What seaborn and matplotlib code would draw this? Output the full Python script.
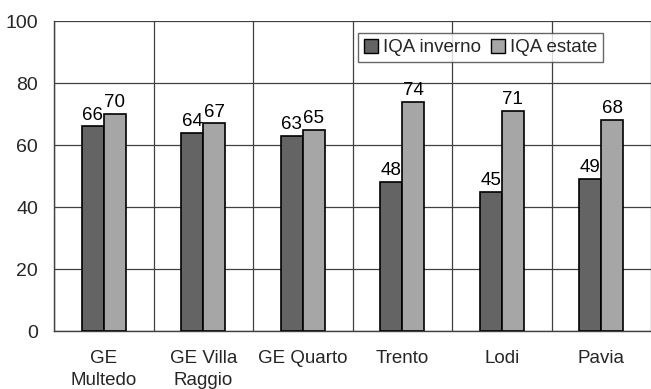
import matplotlib
matplotlib.use("Agg")
import matplotlib.pyplot as plt
import seaborn as sns
import pandas as pd
import numpy as np

categories = ["GE\nMultedo", "GE Villa\nRaggio", "GE Quarto", "Trento", "Lodi", "Pavia"]
inverno = [66, 64, 63, 48, 45, 49]
estate = [70, 67, 65, 74, 71, 68]
series_names = ["IQA inverno", "IQA estate"]
y_ticks = [0, 20, 40, 60, 80, 100]

sns.set_style("white")
plt.rcParams["font.family"] = ["Liberation Sans", "DejaVu Sans"]

df = pd.DataFrame({
    "cat": categories * 2,
    "serie": [series_names[0]] * len(categories) + [series_names[1]] * len(categories),
    "val": inverno + estate,
})

fig = plt.figure(figsize=(6.51, 3.89), dpi=100)
ax = fig.add_axes([54 / 651, 58 / 389, 1 - 54 / 651, 310 / 389])

sns.barplot(data=df, x="cat", y="val", hue="serie", order=categories,
            hue_order=series_names, palette=["#646464", "#a6a6a6"],
            width=0.44, edgecolor="black", linewidth=1.2, saturation=1,
            errorbar=None, ax=ax, zorder=3)

for cont in ax.containers:
    ax.bar_label(cont, labels=[f"{v:.0f}" for v in cont.datavalues],
                 padding=2, fontsize=13.5, color="black")

ax.set_ylim(0, 100)
ax.set_xlim(-0.5, 5.434)
ax.set_yticks(y_ticks)
ax.set_yticklabels([str(t) for t in y_ticks], fontsize=14)
ax.set_xticks(range(len(categories)))
ax.set_xticklabels(categories, fontsize=13.5, linespacing=1.35)
ax.set_xticks(np.arange(-0.5, len(categories), 1.0), minor=True)
ax.tick_params(axis="x", which="major", length=0, pad=14)
ax.tick_params(axis="x", which="minor", length=4, width=1, color="black", direction="out")
ax.tick_params(axis="y", which="major", length=5, width=1, color="black", direction="out", pad=6.5)
ax.set_xlabel("")
ax.set_ylabel("")

ax.grid(axis="y", which="major", color="#404040", linewidth=0.9, zorder=0)
ax.grid(axis="x", which="minor", color="#404040", linewidth=0.9, zorder=0)
ax.set_axisbelow(True)

for s in ["top", "right"]:
    ax.spines[s].set_visible(False)
for s in ["left", "bottom"]:
    ax.spines[s].set_visible(True)
    ax.spines[s].set_color("#404040")
    ax.spines[s].set_linewidth(1.0)

leg = ax.legend(loc="upper left", bbox_to_anchor=(304 / 597, 0.96), ncol=2,
                fontsize=13.5, frameon=True, fancybox=False, edgecolor="#404040",
                handlelength=0.75, handleheight=0.75, handletextpad=0.3,
                columnspacing=0.5, borderpad=0.3, borderaxespad=0)
leg.get_frame().set_linewidth(1.0)
for h in leg.legend_handles:
    h.set_edgecolor("black")
    h.set_linewidth(1.0)

fig.savefig("out.png", dpi=100, facecolor="white")
